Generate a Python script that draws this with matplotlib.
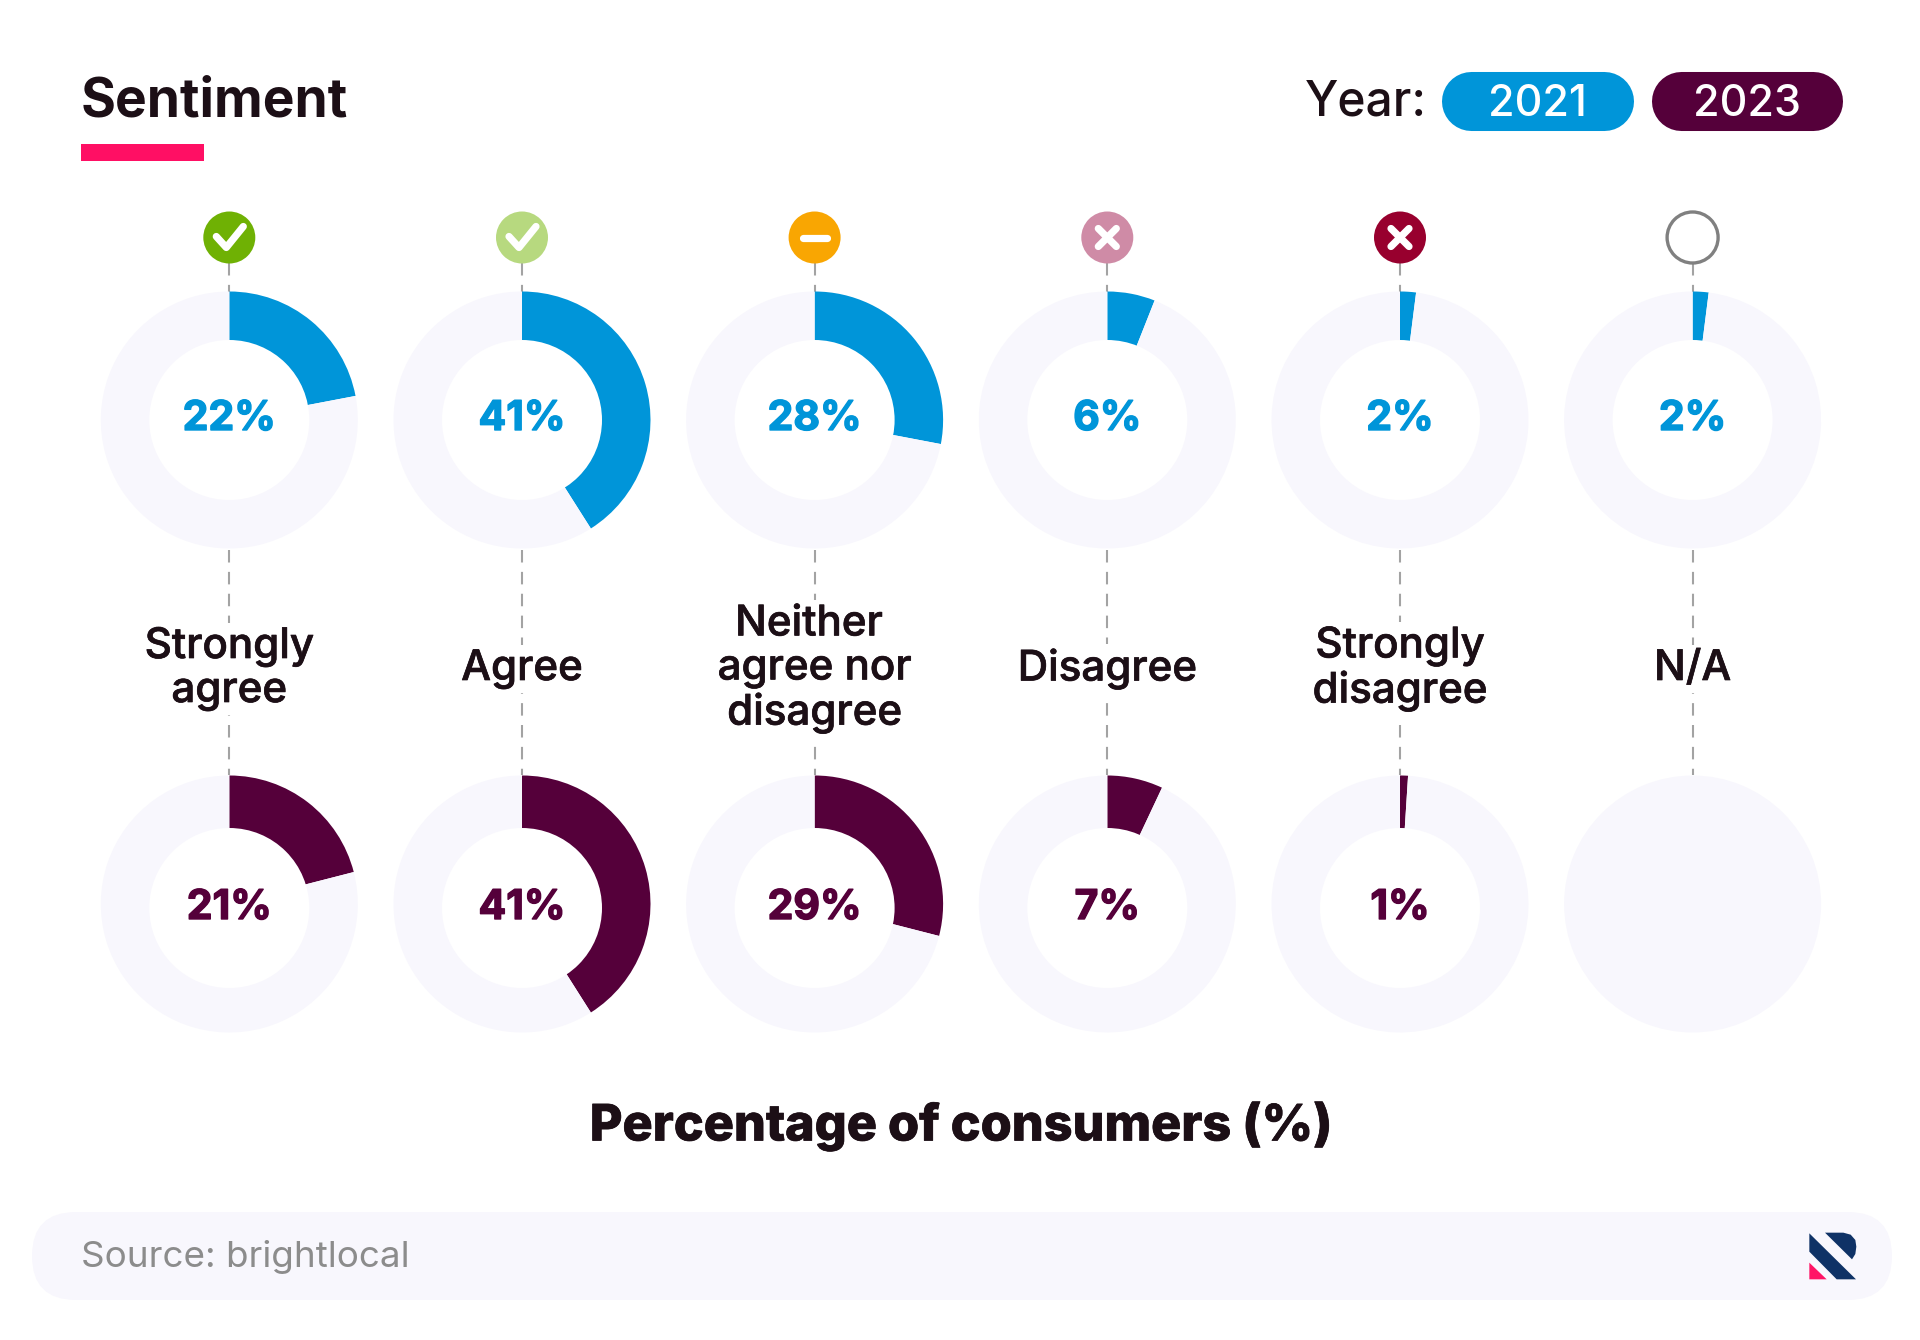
import matplotlib
matplotlib.use("Agg")
import matplotlib.pyplot as plt
import matplotlib.patheffects as pe
from matplotlib.patches import Circle, FancyBboxPatch, Polygon, Rectangle

W, H = 1920, 1340

categories = ["Strongly\nagree", "Agree", "Neither \nagree nor\ndisagree", "Disagree", "Strongly\ndisagree", "N/A"]
values_2021 = [22, 41, 28, 6, 2, 2]
values_2023 = [21, 41, 29, 7, 1, None]
icon_colors = ["#6fb104", "#b7d97f", "#f9a602", "#cf8ba6", "#98002e", "#ffffff"]
icon_kinds = ["check", "check", "minus", "cross", "cross", "none"]

BLUE = "#0095d9"
PLUM = "#55003a"
TRACK = "#f8f7fd"
DARK = "#1c0f16"
GREY = "#a3a3a3"
FONT = "Inter"

COL_X = [229.3, 522, 814.6, 1107.3, 1400, 1692.6]
ROW1_Y = 420
ROW2_Y = 904
R_OUT = 128.5
R_IN = 80
ICON_Y = 237.5

plt.rcParams["font.family"] = [FONT, "DejaVu Sans"]


def py(y):
    return H - y


def donut(ax, x, y, value, color, hole_dy=0):
    # N/A with no value is left as a solid disc
    vals = [100] if value is None else [value, 100 - value]
    cols = [TRACK] if value is None else [color, TRACK]
    ax.pie(
        vals,
        colors=cols,
        center=(x, py(y)),
        radius=R_OUT,
        startangle=90,
        counterclock=False,
        wedgeprops={"linewidth": 0},
    )
    if value is not None:
        ax.add_patch(Circle((x, py(y + hole_dy)), R_IN, fc="white", ec="none", zorder=2))


def icon(ax, x, color, kind):
    if kind == "none":
        ax.add_patch(Circle((x, py(ICON_Y)), 25.5, fc="white", ec="#808080", lw=2.4, zorder=5))
        return
    ax.add_patch(Circle((x, py(ICON_Y)), 26, fc=color, ec="none", zorder=5))
    y0 = py(ICON_Y)
    kw = dict(color="white", lw=5.2, solid_capstyle="round", solid_joinstyle="round", zorder=6)
    if kind == "check":
        ax.plot([x - 13, x - 3, x + 14], [y0 + 1, y0 - 10, y0 + 11], **kw)
    elif kind == "minus":
        ax.plot([x - 12, x + 12], [y0, y0], **kw)
    else:
        ax.plot([x - 9, x + 9], [y0 - 9, y0 + 9], **kw)
        ax.plot([x - 9, x + 9], [y0 + 9, y0 - 9], **kw)


def logo(ax):
    navy = "#0f3266"
    ox, oy = 1700, 1190
    s = 1 / 3
    stripe = [(328, 130), (468, 268), (410, 268), (328, 185)]
    bowl = [(375, 128), (430, 128), (452, 134), (466, 150), (469, 170), (466, 192), (456, 208)]
    tri = [(328, 218), (380, 268), (328, 268)]
    for pts, col in ((stripe, navy), (bowl, navy), (tri, "#ff1466")):
        ax.add_patch(Polygon([(ox + a * s, py(oy + b * s)) for a, b in pts], fc=col, ec="none", zorder=4))


fig = plt.figure(figsize=(W / 100, H / 100), dpi=100, facecolor="white")
ax = fig.add_axes([0, 0, 1, 1])

for i, x in enumerate(COL_X):
    dash = dict(color=GREY, lw=1.5, ls=(0, (6, 4.5)), zorder=1)
    ax.plot([x, x], [py(263), py(292)], **dash)
    ax.plot([x, x], [py(550), py(775)], **dash)

    donut(ax, x, ROW1_Y, values_2021[i], BLUE)
    donut(ax, x, ROW2_Y, values_2023[i], PLUM, hole_dy=4)
    icon(ax, x, icon_colors[i], icon_kinds[i])

    ax.text(x, py(669), categories[i], ha="center", va="center", fontsize=30.3, fontweight="medium",
            color=DARK, linespacing=1.2, zorder=3,
            bbox=dict(fc="white", ec="none", pad=4),
            path_effects=[pe.withStroke(linewidth=0.5, foreground=DARK)])

    ax.text(x, py(419), f"{values_2021[i]}%", ha="center", va="center", fontsize=29.5,
            fontweight="bold", color=BLUE, zorder=3,
            path_effects=[pe.withStroke(linewidth=1.0, foreground=BLUE)])
    if values_2023[i] is not None:
        ax.text(x, py(908), f"{values_2023[i]}%", ha="center", va="center", fontsize=29.5,
                fontweight="bold", color=PLUM, zorder=3,
                path_effects=[pe.withStroke(linewidth=1.0, foreground=PLUM)])

# header
ax.text(81, py(102), "Sentiment", ha="left", va="center", fontsize=38.4, fontweight="bold", color=DARK)
ax.add_patch(Rectangle((81, py(161)), 123, 17, fc="#ff0f64", ec="none"))

ax.text(1305, py(102), "Year:", ha="left", va="center", fontsize=34.5, fontweight="medium", color=DARK)
for x0, x1, col, label in ((1441, 1633, BLUE, "2021"), (1651, 1842, PLUM, "2023")):
    ax.plot([x0 + 29.5, x1 - 29.5], [py(100.5), py(100.5)], color=col, lw=42.5, solid_capstyle="round")
    ax.text((x0 + x1) / 2, py(104), label, ha="center", va="center", fontsize=31,
            fontweight="medium", color="white")

ax.text(961, py(1126), "Percentage of consumers (%)", ha="center", va="center", fontsize=36.2,
        fontweight="heavy", color=DARK, path_effects=[pe.withStroke(linewidth=0.5, foreground=DARK)])

# source bar
ax.add_patch(FancyBboxPatch((32 + 44, py(1300) + 44), 1860 - 88, 0,
                            boxstyle="round,pad=44,rounding_size=44", fc=TRACK, ec="none"))
ax.text(81, py(1257), "Source: brightlocal", ha="left", va="center", fontsize=26.5, color="#8c8c8c")
logo(ax)

ax.set_xlim(0, W)
ax.set_ylim(0, H)
ax.set_aspect("auto")
ax.axis("off")

fig.savefig("out.png", dpi=100, facecolor="white")
